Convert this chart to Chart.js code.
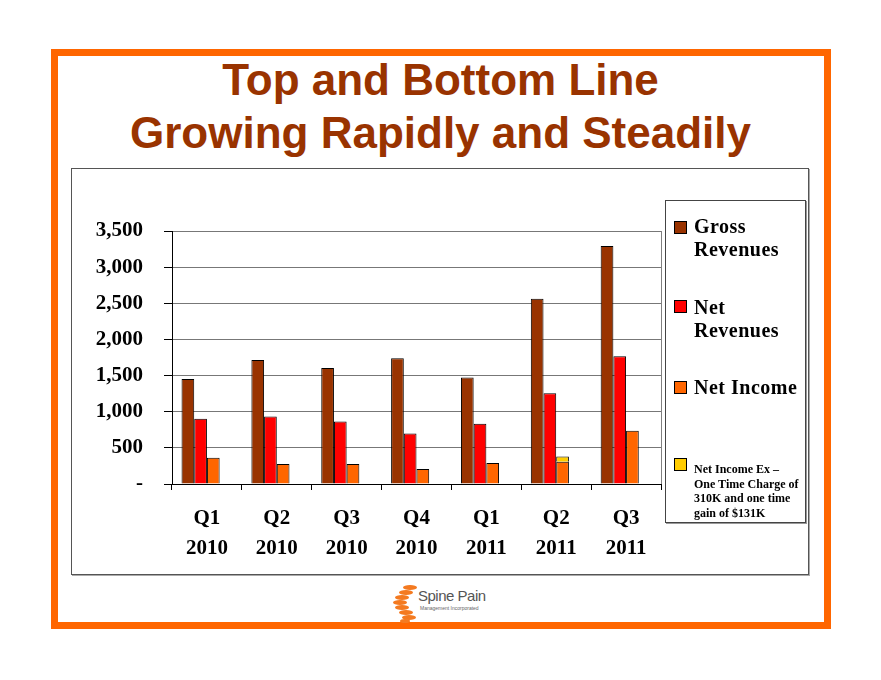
<!DOCTYPE html>
<html>
<head>
<meta charset="utf-8">
<script src="https://cdn.jsdelivr.net/npm/chart.js@4/dist/chart.umd.min.js"></script>
<style>
  body { margin: 0; background: #fff; width: 881px; height: 680px; position: relative; overflow: hidden; }
  #frame { position: absolute; left: 51px; top: 49px; width: 780px; height: 580px; border: 7px solid #ff6600; box-sizing: border-box; }
  #title { position: absolute; left: 0; top: 53px; width: 881px; text-align: center; font: bold 44px "Liberation Sans", Arial, sans-serif; line-height: 53px; color: #993300; }
  #box { position: absolute; left: 71px; top: 168px; width: 738px; height: 407px; border: 1px solid #555; box-shadow: 1px 1px 0 #aaa; box-sizing: border-box; }
  #chart { position: absolute; left: 71px; top: 168px; }
  #legend { position: absolute; left: 665px; top: 200px; width: 141px; height: 323px; border: 1px solid #444; box-shadow: 1px 1px 0 #999; box-sizing: border-box; background: #fff; font-family: "Liberation Serif", "Times New Roman", serif; font-weight: bold; color: #000; }
  .sw { position: absolute; left: 8px; width: 13px; height: 13px; border: 1px solid #000; box-sizing: border-box; }
  .lt { position: absolute; left: 28px; font-size: 20px; line-height: 23px; letter-spacing: 0.5px; white-space: nowrap; }
  .ls { position: absolute; left: 28px; font-size: 12px; line-height: 14.5px; white-space: nowrap; }
  #logo { position: absolute; left: 390px; top: 584px; width: 110px; height: 40px; }
  .disc { position: absolute; width: 14px; height: 5px; border-radius: 50%; background: #f47a20; }
  #logo .name { position: absolute; left: 28px; top: 3px; font: 15px "Liberation Sans", Arial, sans-serif; color: #555; letter-spacing: -0.5px; }
  #logo .sub { position: absolute; left: 30px; top: 21px; font: 5px "Liberation Sans", Arial, sans-serif; color: #666; }
</style>
</head>
<body>
<div id="frame"></div>
<div id="title">Top and Bottom Line<br>Growing Rapidly and Steadily</div>
<div id="box"></div>
<canvas id="chart" width="738" height="407"></canvas>
<div id="legend"></div>
<div id="logo">
  <span class="disc" style="left:13px;top:1px"></span>
  <span class="disc" style="left:9px;top:6px"></span>
  <span class="disc" style="left:5px;top:11px"></span>
  <span class="disc" style="left:3px;top:16px"></span>
  <span class="disc" style="left:5px;top:21px"></span>
  <span class="disc" style="left:9px;top:26px"></span>
  <span class="disc" style="left:12px;top:31px"></span>
  <span class="disc" style="left:10px;top:35px;width:10px;height:4px"></span>
  <span class="name">Spine Pain</span>
  <span class="sub">Management Incorporated</span>
</div>
<script>
const quarters = [["Q1", "2010"], ["Q2", "2010"], ["Q3", "2010"], ["Q4", "2010"], ["Q1", "2011"], ["Q2", "2011"], ["Q3", "2011"]];
const grossRevenues = [1453, 1716, 1605, 1739, 1472, 2562, 3293];
const netRevenues = [901, 934, 865, 699, 833, 1256, 1766];
const netIncome = [363, 276, 276, 207, 290, 308, 736];
const netIncomeEx = [null, null, null, null, null, 382, null];

const legendItems = [
  { color: "#993300", lines: ["Gross", "Revenues"], top: 14, sw: 20, small: false },
  { color: "#ff0000", lines: ["Net", "Revenues"], top: 95, sw: 99, small: false },
  { color: "#ff6600", lines: ["Net Income"], top: 175, sw: 180, small: false },
  { color: "#ffcc00", lines: ["Net Income Ex \u2013", "One Time Charge of", "310K and one time", "gain of $131K"], top: 261, sw: 257, small: true },
];

const legend = document.getElementById("legend");
legendItems.forEach(function (item) {
  const sw = document.createElement("div");
  sw.className = "sw";
  sw.style.top = item.sw + "px";
  sw.style.background = item.color;
  legend.appendChild(sw);
  const txt = document.createElement("div");
  txt.className = item.small ? "ls" : "lt";
  txt.style.top = item.top + "px";
  txt.innerHTML = item.lines.join("<br>");
  legend.appendChild(txt);
});

const rightBorder = {
  id: "rightBorder",
  afterDatasetsDraw(chart) {
    const { ctx, chartArea } = chart;
    ctx.save();
    ctx.strokeStyle = "#808080";
    ctx.lineWidth = 1;
    ctx.beginPath();
    ctx.moveTo(chartArea.right + 0.5, chartArea.top);
    ctx.lineTo(chartArea.right + 0.5, chartArea.bottom);
    ctx.stroke();
    ctx.restore();
  },
};

const barStyle = { borderColor: "#000", borderWidth: 1, categoryPercentage: 0.727, barPercentage: 1.0 };

new Chart(document.getElementById("chart"), {
  type: "bar",
  data: {
    labels: quarters,
    datasets: [
      Object.assign({ label: "Gross Revenues", data: grossRevenues, backgroundColor: "#993300", stack: "a" }, barStyle),
      Object.assign({ label: "Net Revenues", data: netRevenues, backgroundColor: "#ff0000", stack: "b" }, barStyle),
      Object.assign({ label: "Net Income", data: netIncome, backgroundColor: "#ff6600", stack: "c" }, barStyle),
      Object.assign({
        label: "Net Income Ex",
        data: netIncomeEx.map((v, i) => (v == null ? null : v - netIncome[i])),
        backgroundColor: "#ffcc00",
        stack: "c",
      }, barStyle),
      // empty fourth slot, as in the original grouping
      Object.assign({ label: "", data: quarters.map(() => null), backgroundColor: "transparent", stack: "d" }, barStyle),
    ],
  },
  options: {
    responsive: false,
    animation: false,
    layout: { padding: { left: 0, top: 63, right: 148, bottom: 0 } },
    scales: {
      x: {
        stacked: true,
        grid: { drawOnChartArea: false, tickLength: 6, tickColor: "#000", offset: true },
        border: { color: "#000", width: 1 },
        ticks: {
          color: "#000",
          padding: 14,
          maxRotation: 0,
          font: { family: "'Liberation Serif', 'Times New Roman', serif", weight: "bold", size: 21, lineHeight: 1.4 },
        },
        afterFit: (scale) => { scale.height = 91; },
      },
      y: {
        stacked: true,
        min: 0,
        max: 3500,
        grid: { color: "#777", tickLength: 8, tickColor: "#000" },
        border: { color: "#000", width: 1 },
        ticks: {
          stepSize: 500,
          color: "#000",
          padding: 21,
          font: { family: "'Liberation Serif', 'Times New Roman', serif", weight: "bold", size: 21 },
          callback: (v) => (v === 0 ? "-" : v.toLocaleString("en-US")),
        },
        afterFit: (scale) => { scale.width = 101; },
      },
    },
    plugins: {
      legend: { display: false },
      tooltip: { enabled: false },
    },
  },
  plugins: [rightBorder],
});
</script>
</body>
</html>
